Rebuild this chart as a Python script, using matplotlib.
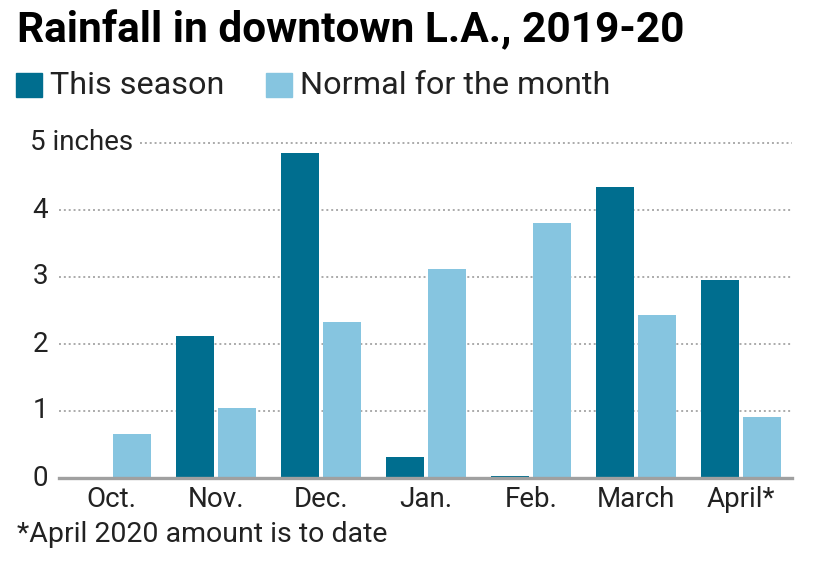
import numpy as np
import matplotlib.pyplot as plt

# monthly rainfall, inches
months = ['Oct.', 'Nov.', 'Dec.', 'Jan.', 'Feb.', 'March', 'April*']
this_season = [0.0, 2.12, 4.85, 0.31, 0.03, 4.35, 2.96]
normal = [0.66, 1.04, 2.33, 3.12, 3.80, 2.43, 0.91]
yticks = [0, 1, 2, 3, 4, 5]

dark = '#006e8f'
light = '#86c5e0'
txt = '#222222'

plt.rcParams['font.family'] = ['Roboto', 'DejaVu Sans']

fig = plt.figure(figsize=(8.4, 5.65), dpi=100, facecolor='white')
W, H = 840, 565
ax = fig.add_axes([59 / W, 1 - 478 / H, (792 - 59) / W, (478 - 143) / H])

x = np.arange(len(months))
bw = 0.362
ax.bar(x - 0.2, this_season, bw, color=dark, zorder=2)
ax.bar(x + 0.2, normal, bw, color=light, zorder=2)

ax.set_xlim(-0.495, len(months) - 0.51)
ax.set_ylim(0, 5)

# dotted gridlines, the top one starts after the "5 inches" label
for v in yticks[1:]:
    start = (140 - 59) / (792 - 59) if v == 5 else 0
    ax.axhline(v, xmin=start, xmax=1, color='#aaaaaa', lw=1.4,
               linestyle=(0, (1, 1.5)), zorder=1, clip_on=False)
ax.axhline(0, color='#a0a0a0', lw=2.4, zorder=3, clip_on=False)

for s in ax.spines.values():
    s.set_visible(False)
ax.set_yticks([])
ax.set_xticks(x)
ax.set_xticklabels(months, fontsize=20, color=txt)
ax.tick_params(axis='x', length=0, pad=6)

# y labels drawn as text so "5 inches" can hang left
for v in yticks:
    if v == 5:
        ax.text(-(59 - 30) / 105 - 0.495, v, '5 inches', ha='left', va='center',
                fontsize=20, color=txt)
    else:
        ax.text(-(59 - 48) / 105 - 0.495, v, str(v), ha='right', va='center',
                fontsize=20, color=txt)

fig.text(17 / W, 1 - 31 / H, 'Rainfall in downtown L.A., 2019-20', fontsize=30.5,
         fontweight='bold', color='black', va='center', ha='left')

# legend
fig.patches.append(plt.Rectangle((16 / W, 1 - 97 / H), 26 / W, 24 / H,
                                 transform=fig.transFigure, color=dark))
fig.text(50 / W, 1 - 85 / H, 'This season', fontsize=23.3, color=txt,
         va='center', ha='left')
fig.patches.append(plt.Rectangle((266 / W, 1 - 97 / H), 26 / W, 24 / H,
                                 transform=fig.transFigure, color=light))
fig.text(300 / W, 1 - 85 / H, 'Normal for the month', fontsize=23.3, color=txt,
         va='center', ha='left')

fig.text(17 / W, 1 - 535 / H, '*April 2020 amount is to date', fontsize=20.5,
         color=txt, va='center', ha='left')

fig.savefig('out.png', dpi=100, facecolor='white')
